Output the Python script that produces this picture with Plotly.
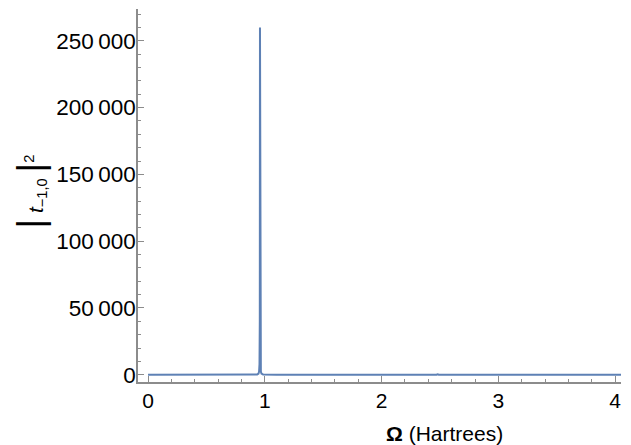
import plotly.graph_objects as go

# Data (sharp resonance near Omega ~ 0.96 Hartree)
omega = [0.0, 0.5, 0.9, 0.935, 0.946, 0.951, 0.9545, 0.957, 0.9585, 0.960, 0.9625, 0.966,
         0.971, 0.985, 1.1, 1.215, 1.225, 1.235, 1.5, 2.0, 2.47, 2.48, 2.49, 3.0, 3.5,
         3.73, 3.74, 3.75, 4.05]
t_sq = [30, 40, 120, 300, 900, 2500, 8000, 40000, 260000, 40000, 8000, 2500,
        900, 300, 80, 60, 500, 60, 40, 30, 30, 400, 30, 25, 20, 20, 300, 20, 20]

y_tickvals = [0, 50000, 100000, 150000, 200000, 250000]
y_ticktext = ["0", "50\u2009000", "100\u2009000", "150\u2009000", "200\u2009000", "250\u2009000"]
x_tickvals = [0, 1, 2, 3, 4]
x_ticktext = ["0", "1", "2", "3", "4"]

fig = go.Figure()
fig.add_trace(go.Scatter(x=omega, y=t_sq, mode="lines",
                         line=dict(color="#5E81B5", width=2), hoverinfo="skip"))

axis_color = "#8c8c8c"
font_family = "Liberation Sans, Arial, sans-serif"

fig.update_layout(
    width=631, height=445,
    margin=dict(l=138, r=10, t=9, b=63),
    paper_bgcolor="white", plot_bgcolor="white",
    showlegend=False,
    font=dict(family=font_family, size=22, color="black"),
    xaxis=dict(
        range=[-0.086, 4.05], showgrid=False, zeroline=False,
        showline=True, linecolor=axis_color, linewidth=1.5,
        ticks="inside", ticklen=6, tickcolor=axis_color, tickwidth=1,
        tickvals=x_tickvals, ticktext=x_ticktext,
        tickfont=dict(size=21, family=font_family, color="black"),
        minor=dict(ticks="inside", ticklen=3.5, dtick=0.2, tick0=0,
                   tickcolor=axis_color, showgrid=False),
        ticklabelstandoff=-1,
    ),
    yaxis=dict(
        range=[-5400, 273800], showgrid=False, zeroline=False,
        showline=True, linecolor=axis_color, linewidth=1.5,
        ticks="inside", ticklen=6, tickcolor=axis_color, tickwidth=1,
        tickvals=y_tickvals, ticktext=y_ticktext,
        tickfont=dict(size=22.5, family=font_family, color="black"),
        minor=dict(ticks="inside", ticklen=3.5, dtick=10000, tick0=0,
                   tickcolor=axis_color, showgrid=False),
        ticklabelstandoff=-4,
    ),
    annotations=[
        dict(text="<b>\u03a9</b> (Hartrees)", xref="paper", yref="paper",
             x=0.634, y=-0.137, showarrow=False, xanchor="center", yanchor="middle",
             font=dict(size=21, family=font_family, color="black")),
        dict(text="<span style='font-size:37px'>|</span> <i>t</i><sub>\u22121,0</sub> "
                  "<span style='font-size:37px'>|</span><sup>2</sup>",
             xref="paper", yref="paper",
             x=-0.222, y=0.51, showarrow=False, textangle=-90,
             xanchor="center", yanchor="middle",
             font=dict(size=21, family=font_family, color="black")),
    ],
)

fig.write_html("out.html")
